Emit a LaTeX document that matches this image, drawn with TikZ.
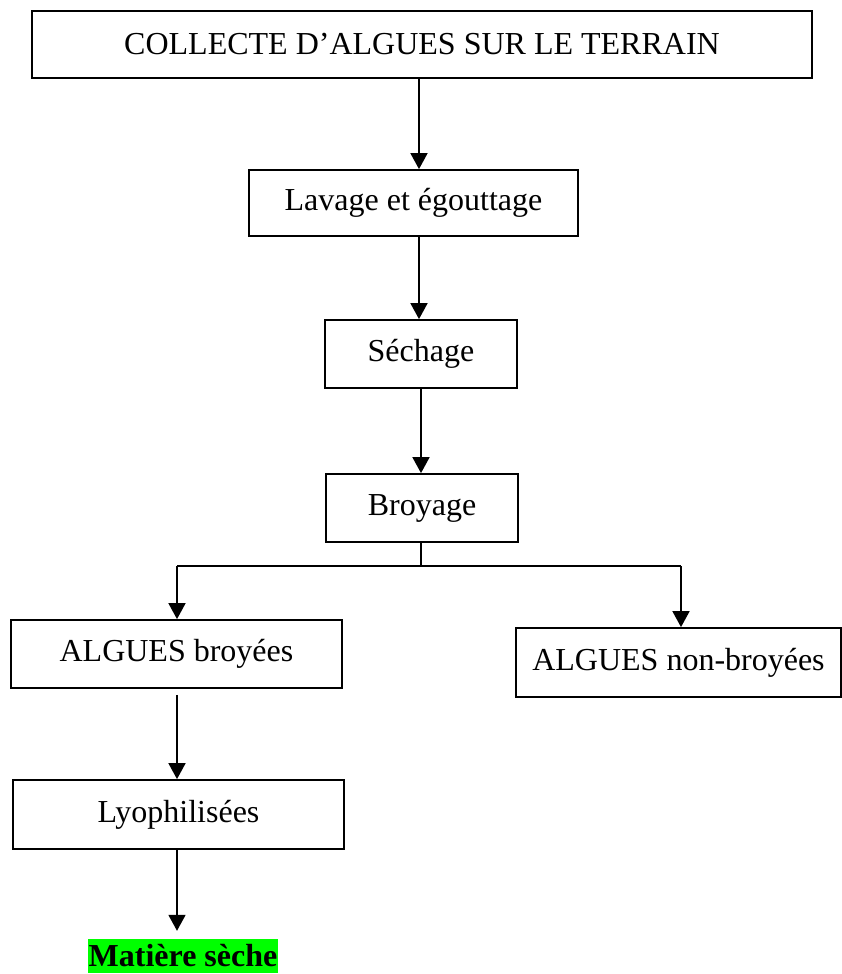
\documentclass[tikz,border=0pt]{standalone}
\usepackage{fontspec}
\setmainfont{Liberation Serif}
\usetikzlibrary{arrows.meta}
\begin{document}
\begin{tikzpicture}[x=1pt,y=-1pt,
  box/.style={draw, line width=1.8pt, rectangle, inner sep=0pt, font=\fontsize{32}{38}\selectfont},
  arr/.style={line width=1.8pt, -{Triangle[width=17pt,length=16pt]}},
  ln/.style={line width=1.8pt}]
\useasboundingbox (0,0) rectangle (842,974);
\node[box, minimum width=780, minimum height=67] (collect) at (422,44.5) {\raisebox{2pt}{COLLECTE D’ALGUES SUR LE TERRAIN}};
\node[box, minimum width=329, minimum height=66] (lav) at (413.5,203) {\raisebox{2pt}{Lavage et égouttage}};
\node[box, minimum width=192, minimum height=68] (sech) at (421,354) {\raisebox{2pt}{Séchage}};
\node[box, minimum width=192, minimum height=68] (broy) at (422,508) {\raisebox{2pt}{Broyage}};
\node[box, minimum width=331, minimum height=68] (alb) at (176.5,654) {\raisebox{2pt}{ALGUES broyées}};
\node[box, minimum width=331, minimum height=69] (lyo) at (178.5,814.5) {\raisebox{2pt}{Lyophilisées}};
\node[box, minimum width=325, minimum height=69] (alnb) at (678.5,662.5) {\raisebox{2pt}{ALGUES non-broyées}};
\node[fill={rgb,255:red,0;green,255;blue,0}, inner sep=0pt, minimum width=190, minimum height=34,
  font=\fontsize{32}{38}\selectfont\bfseries] (mat) at (183,956) {Matière sèche};
\coordinate (branch) at (421,566);
\coordinate (bl) at (177,566);
\coordinate (br) at (681,566);
\draw[arr] ([xshift=-3pt]collect.south) -- ([xshift=-3pt]collect.south |- lav.north);
\draw[arr] ([xshift=5.5pt]lav.south) -- ([xshift=5.5pt]lav.south |- sech.north);
\draw[arr] (sech.south) -- (sech.south |- broy.north);
\draw[ln] ([xshift=-1pt]broy.south) -- (branch);
\draw[ln] (bl) -- (br);
\draw[arr] (bl) -- (bl |- alb.north);
\draw[arr] (br) -- (br |- alnb.north);
\draw[arr, shorten <=6pt] ([xshift=0.5pt]alb.south) -- ([xshift=0.5pt]alb.south |- lyo.north);
\draw[arr, shorten >=8pt] ([xshift=-1.5pt]lyo.south) -- ([xshift=-1.5pt]lyo.south |- mat.north);
\end{tikzpicture}
\end{document}
